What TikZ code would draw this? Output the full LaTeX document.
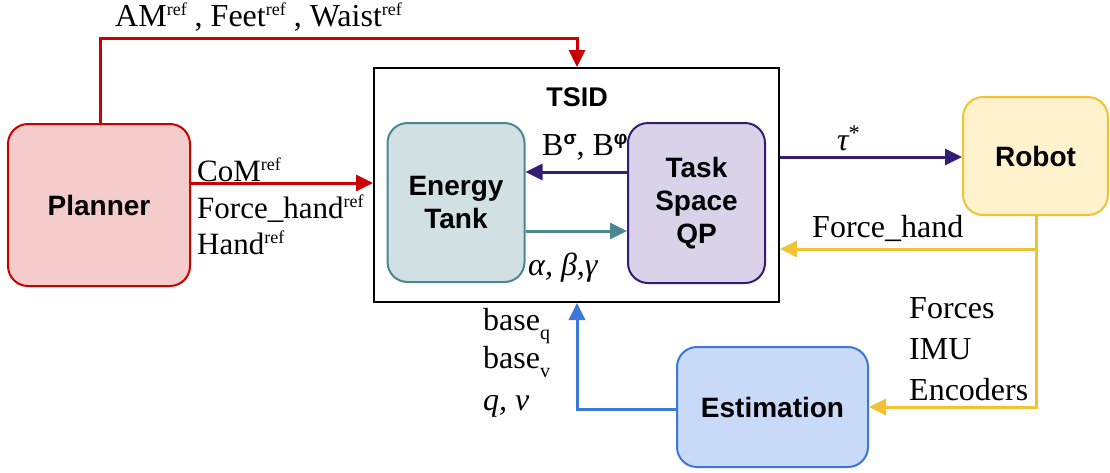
\documentclass[tikz,border=0pt]{standalone}
\usepackage{fontspec}
\setmainfont{Liberation Serif}
\newfontfamily\boxfont{Liberation Sans}
\usetikzlibrary{arrows.meta}
\definecolor{cred}{HTML}{CC0000}
\definecolor{fred}{HTML}{F4CCCC}
\definecolor{cteal}{HTML}{4A8792}
\definecolor{fteal}{HTML}{D0E0E3}
\definecolor{cpur}{HTML}{351C75}
\definecolor{fpur}{HTML}{D9D2E9}
\definecolor{cyel}{HTML}{F1C232}
\definecolor{fyel}{HTML}{FFF2CC}
\definecolor{cblue}{HTML}{3C78D8}
\definecolor{fblue}{HTML}{C9DAF8}
\tikzset{
  blk/.style={rounded corners=20pt, line width=2pt, inner sep=0pt, align=center,
    font=\boxfont\bfseries\fontsize{28}{33}\selectfont},
  conn/.style={line width=3pt, -{Triangle[length=17pt,width=16pt]}},
  lbl/.style={anchor=base west, inner sep=0pt, font=\fontsize{32}{36}\selectfont},
}
\newcommand\mysub[1]{\raisebox{-9pt}{\fontsize{20}{20}\selectfont #1}}
\newcommand\myrf{\raisebox{11pt}{\fontsize{18}{18}\selectfont ref}}
\newcommand\mysup[1]{\raisebox{11pt}{\fontsize{19}{19}\selectfont\boxfont\bfseries #1}}
\begin{document}
\begin{tikzpicture}[x=1pt,y=-1pt]
\useasboundingbox (0,0) rectangle (1110,472);
% TSID frame
\node[draw=black, line width=2pt, minimum width=405pt, minimum height=234pt, inner sep=0pt] (tsid) at (576.5,185) {};
\node[font=\boxfont\bfseries\fontsize{27}{30}\selectfont, inner sep=0pt] (tsidlbl) at (577,97) {TSID};
% boxes
\node[blk, draw=cred, fill=fred, minimum width=182pt, minimum height=162pt] (planner) at (99,205) {Planner};
\node[blk, draw=cteal, fill=fteal, minimum width=137pt, minimum height=159pt] (energy) at (456,202.5) {Energy\\Tank};
\node[blk, draw=cpur, fill=fpur, minimum width=137pt, minimum height=160pt] (qp) at (696.5,203) {Task\\Space\\QP};
\node[blk, draw=cyel, fill=fyel, minimum width=145pt, minimum height=118pt] (robot) at (1035.5,156) {Robot};
\node[blk, draw=cblue, fill=fblue, minimum width=191pt, minimum height=120pt] (est) at (772.5,407) {Estimation};
% connectors
\coordinate (pl1) at (100,38);
\coordinate (pl2) at (577,38);
\draw[conn, draw=cred] (planner.north -| pl1) -- (pl1) -- (pl2) -- (pl2 |- tsid.north);
\draw[conn, draw=cred] (planner.east |- 0,183) -- (tsid.west |- 0,183);
\draw[conn, draw=cpur] (qp.west |- 0,172) -- (energy.east |- 0,172);
\draw[conn, draw=cteal] (energy.east |- 0,231) -- (qp.west |- 0,231);
\draw[conn, draw=cpur] (tsid.east |- 0,157) -- (robot.west |- 0,157);
\coordinate (y1) at (1036,249);
\coordinate (y2) at (1036,407);
\draw[conn, draw=cyel] (robot.south -| y1) -- (y1) -- (tsid.east |- y1);
\draw[conn, draw=cyel] (y1) -- (y2) -- (est.east |- y2);
\coordinate (b1) at (577,409);
\draw[conn, draw=cblue] (est.west |- b1) -- (b1) -- (b1 |- tsid.south);
% labels
\node[lbl] (t1) at (115,26) {AM\myrf{} , Feet\myrf{} , Waist\myrf};
\node[lbl, font=\fontsize{31}{36}\selectfont] (t2) at (197,181) {CoM\myrf};
\node[lbl, font=\fontsize{31}{36}\selectfont] (t3) at (197,218) {Force\_hand\myrf};
\node[lbl, font=\fontsize{31}{36}\selectfont] (t4) at (197,254) {Hand\myrf};
\node[lbl] (t5) at (542,155) {B\mysup{σ}, B\mysup{φ}};
\node[lbl] (t6) at (528,275) {\itshape α, β,γ};
\node[lbl] (t7) at (837,150) {\itshape τ\textsuperscript{\upshape *}};
\node[lbl] (t8) at (812,237) {Force\_hand};
\node[lbl] (t9) at (909,318) {Forces};
\node[lbl] (t10) at (909,359) {IMU};
\node[lbl] (t11) at (909,400) {Encoders};
\node[lbl] (t12) at (483,330) {base\mysub{q}};
\node[lbl] (t13) at (483,368) {base\mysub{v}};
\node[lbl] (t14) at (483,410) {\itshape q, ν};
\end{tikzpicture}
\end{document}
